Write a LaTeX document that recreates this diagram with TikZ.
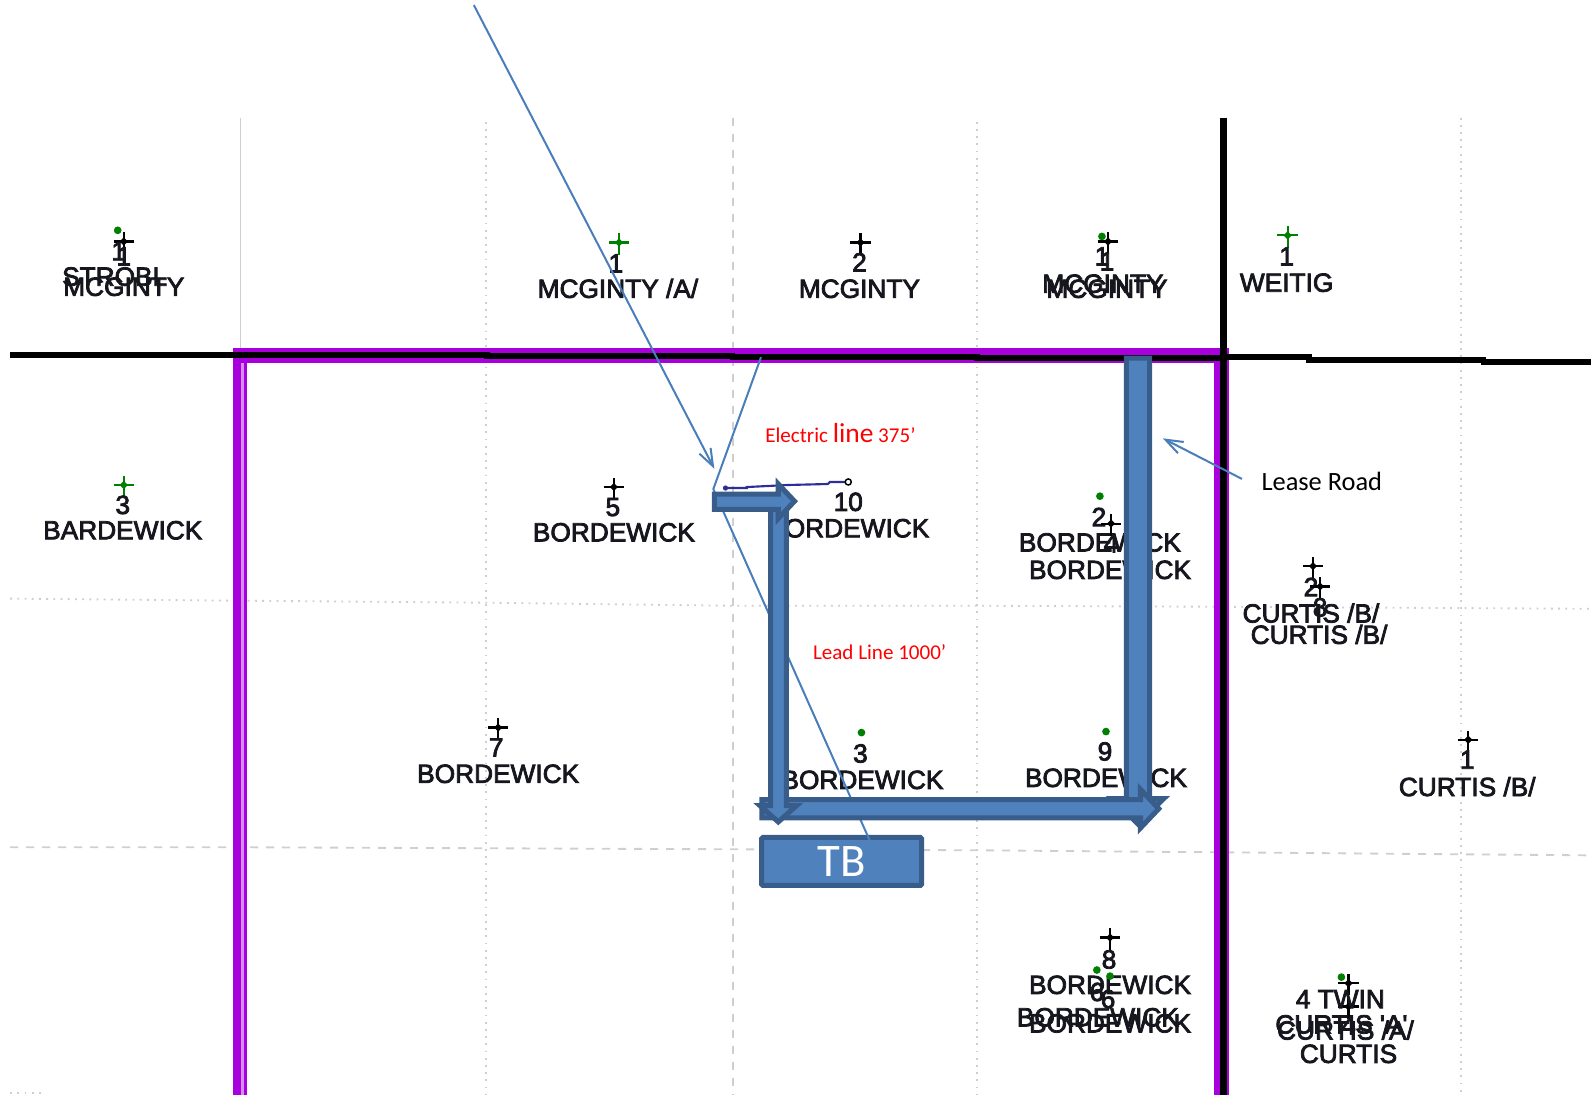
\documentclass[tikz,border=0pt]{standalone}
\usepackage{fontspec}
\setmainfont{Liberation Sans}
\newfontfamily\welfont[FakeBold=3]{Liberation Sans}
\newfontfamily\calfont{Carlito}
\usetikzlibrary{arrows.meta}
\definecolor{blueF}{HTML}{4F81BD}
\definecolor{blueB}{HTML}{385D8A}
\definecolor{blueL}{HTML}{4A7EBB}
\definecolor{purp}{HTML}{A800DC}
\definecolor{gridc}{HTML}{CFCFCF}
\definecolor{wgreen}{HTML}{008000}
\definecolor{wtext}{HTML}{16161E}
\definecolor{eline}{HTML}{2E2E99}
\tikzset{
  griddash/.style={draw=gridc,line width=1.4pt,dash pattern=on 6pt off 6pt},
  griddot/.style={draw=gridc,line width=1.4pt,dash pattern=on 1.4pt off 4pt},
  wlab/.style={font=\welfont\fontsize{19.7}{20}\selectfont,text=wtext,inner sep=0pt,text height=14.5pt,text depth=0pt},
  blk/.style={fill=blueF,draw=blueB,line width=3.8pt,miter limit=10},
  thinb/.style={draw=blueL,line width=1.5pt},
  open/.style={-{Straight Barb[length=13pt,width=14pt,angle'=40,line width=1.5pt]}},
  redlab/.style={text=red,inner sep=0pt,font=\calfont\fontsize{15.8}{16}\selectfont},
}
\newcommand{\wcross}[3]{\draw[#1,line width=1.6pt] (#2-10,#3) -- (#2+10,#3) (#2,#3-9) -- (#2,#3+12); \fill[#1] (#2-4,#3) -- (#2,#3-4) -- (#2+4,#3) -- (#2,#3+4) -- cycle;}
\newcommand{\wdot}[2]{\fill[wgreen] (#1,#2) circle[radius=3.8];}
\newcommand{\wl}[4]{\node[wlab] (#1) at (#2,#3) {#4};}
\begin{document}
\begin{tikzpicture}[x=0.761pt,y=-0.761pt]
\useasboundingbox (0,0) rectangle (1568,1079);
% grid
\draw[draw=gridc,line width=1.4pt] (237,116) -- (237,350);
\draw[griddot] (479,120) -- (479,1079);
\draw[griddash] (722,116) -- (722,1079);
\draw[griddot] (963,120) -- (963,1079);
\draw[griddot] (1440,116) -- (1440,1079);
\draw[griddot] (10,590) -- (237,592) -- (480,594) -- (722,597) -- (963,597) -- (1205,598) -- (1568,600);
\draw[griddash] (10,835) -- (237,835) -- (722,837) -- (963,838) -- (1205,840) -- (1568,843);
\draw[griddot] (10,1077) -- (45,1077);
% purple boundary
\draw[purp,line width=11.2pt,line join=miter] (236.5,1079) -- (236.5,350.5) -- (1204,350.5) -- (1204,1079);
\draw[purp!45!white,line width=2pt] (239,1079) -- (239,358);
% black lines
\draw[black,line width=4.2pt] (10,350) -- (480,350) -- (480,351) -- (722,351) -- (722,352) -- (963,352) -- (963,353) -- (1205,353) -- (1205,352) -- (1290,352) -- (1290,355) -- (1462,355) -- (1462,357) -- (1568,357);
\draw[black,line width=5pt] (1205.5,116) -- (1205.5,1079);
% well labels
\wdot{116}{227} \wcross{black}{122}{238}
\wl{n1a}{117}{247}{1} \wl{n1b}{122}{252}{1}
\wl{strobl}{113}{272}{STROBL} \wl{mcg1}{122}{282}{MCGINTY}
\wcross{wgreen}{610}{239} \wl{n1c}{607}{259}{1} \wl{mcga}{609}{284}{MCGINTY /A/}
\wcross{black}{848}{239} \wl{n2a}{847}{258}{2} \wl{mcg2}{847}{284}{MCGINTY}
\wdot{1086}{233} \wcross{black}{1092}{238}
\wl{n1d}{1086}{252}{1} \wl{n1e}{1091}{257}{1}
\wl{mcg3}{1087}{279}{MCGINTY} \wl{mcg4}{1091}{284}{MCGINTY}
\wcross{wgreen}{1269}{232} \wl{n1f}{1268}{252}{1} \wl{weitig}{1268}{278}{WEITIG}
\wcross{wgreen}{122}{478} \wl{n3a}{121}{497}{3} \wl{bard}{121}{522}{BARDEWICK}
\wcross{black}{605}{480} \wl{n5a}{604}{499}{5} \wl{bor5}{605}{524}{BORDEWICK}
\wl{n10}{836}{494}{10} \wl{bor10}{836}{520}{BORDEWICK}
\wdot{849}{722} \wl{n3b}{848}{742}{3} \wl{bor3}{850}{768}{BORDEWICK}
\wdot{1090}{721} \wl{n9}{1089}{740}{9} \wl{bor9}{1090}{766}{BORDEWICK}
\wcross{black}{491}{717} \wl{n7}{489}{736}{7} \wl{bor7}{491}{762}{BORDEWICK}
\wdot{1084}{489} \wl{n2b}{1083}{509}{2} \wl{bor2}{1084}{534}{BORDEWICK}
\wcross{black}{1095}{516} \wl{n4a}{1095}{535}{4} \wl{bor4}{1094}{561}{BORDEWICK}
\wcross{black}{1294}{558} \wl{n2c}{1292}{578}{2} \wl{cur1}{1292}{604}{CURTIS /B/}
\wcross{black}{1301}{578} \wl{n5b}{1301}{598}{8} \wl{cur2}{1300}{625}{CURTIS /B/}
\wcross{black}{1447}{729} \wl{n1g}{1446}{748}{1} \wl{cur3}{1446}{775}{CURTIS /B/}
\wcross{black}{1094}{924} \wl{n8}{1093}{945}{8} \wl{bor8}{1094}{970}{BORDEWICK}
\wdot{1081}{956} \wdot{1094}{962}
\wl{n6a}{1081}{977}{6} \wl{n6b}{1092}{984}{6}
\wl{bor6a}{1082}{1002}{BORDEWICK} \wl{bor6b}{1094}{1008}{BORDEWICK}
\wdot{1322}{963} \wcross{black}{1329}{969} \wcross{black}{1329}{992}
\wl{n4b}{1329}{1010}{4}
\wl{twin}{1321}{984}{4 TWIN} \wl{cura}{1322}{1009}{CURTIS 'A'} \wl{curb}{1326}{1015}{CURTIS /A/} \wl{curc}{1329}{1038}{CURTIS}
% electric line
\draw[eline,line width=1.6pt] (715,481) -- (736,481) -- (736,480) -- (776,478) -- (816,477) -- (818,475) -- (833,475);
\fill[eline] (715,481) circle[radius=2.6];
\draw[black,fill=white,line width=1.1pt] (836,475) circle[radius=3];
% TB box
\node[fill=blueF,draw=blueB,line width=3.8pt,rounded corners=1pt,minimum width=120pt,minimum height=36pt,inner sep=0pt,text=white,font=\calfont\fontsize{35}{35}\selectfont] (tb) at (829.5,849) {TB};
% thin lines
\coordinate (l1) at (750,352); \coordinate (l2) at (703,482); \coordinate (l3) at (857,828);
\draw[thinb,line join=round] (l1) -- (l2) -- (l3);
\coordinate (a1) at (467,5); \coordinate (a2) at (704,462);
\draw[thinb,open] (a1) -- (a2);
\coordinate (lr1) at (1224,472); \coordinate (lr2) at (1146,432);
\draw[thinb,open] (lr1) -- (lr2);
% thick arrows
\draw[blk] (1110,353) -- (1133,353) -- (1133,787) -- (1147,787) -- (1121.5,812) -- (1096,787) -- (1110,787) -- cycle;
\draw[blk] (751,788) -- (1124,788) -- (1124,778) -- (1142,797) -- (1124,816) -- (1124,806) -- (751,806) -- cycle;
\draw[blk] (759.5,496) -- (775,496) -- (775,794) -- (785,794) -- (767,810) -- (749,794) -- (759.5,794) -- cycle;
\draw[blk] (704,487) -- (767,487) -- (767,477) -- (783,494) -- (767,511) -- (767,502) -- (704,502) -- cycle;
% captions
\node[redlab,anchor=west] (elec) at (754,427) {Electric {\fontsize{20.6}{20}\selectfont line} 375’};
\node[redlab,anchor=west] (lead) at (801,643) {Lead Line 1000’};
\node[inner sep=0pt,anchor=west,font=\calfont\fontsize{19.8}{20}\selectfont] (lease) at (1243,474) {Lease Road};
\end{tikzpicture}
\end{document}
